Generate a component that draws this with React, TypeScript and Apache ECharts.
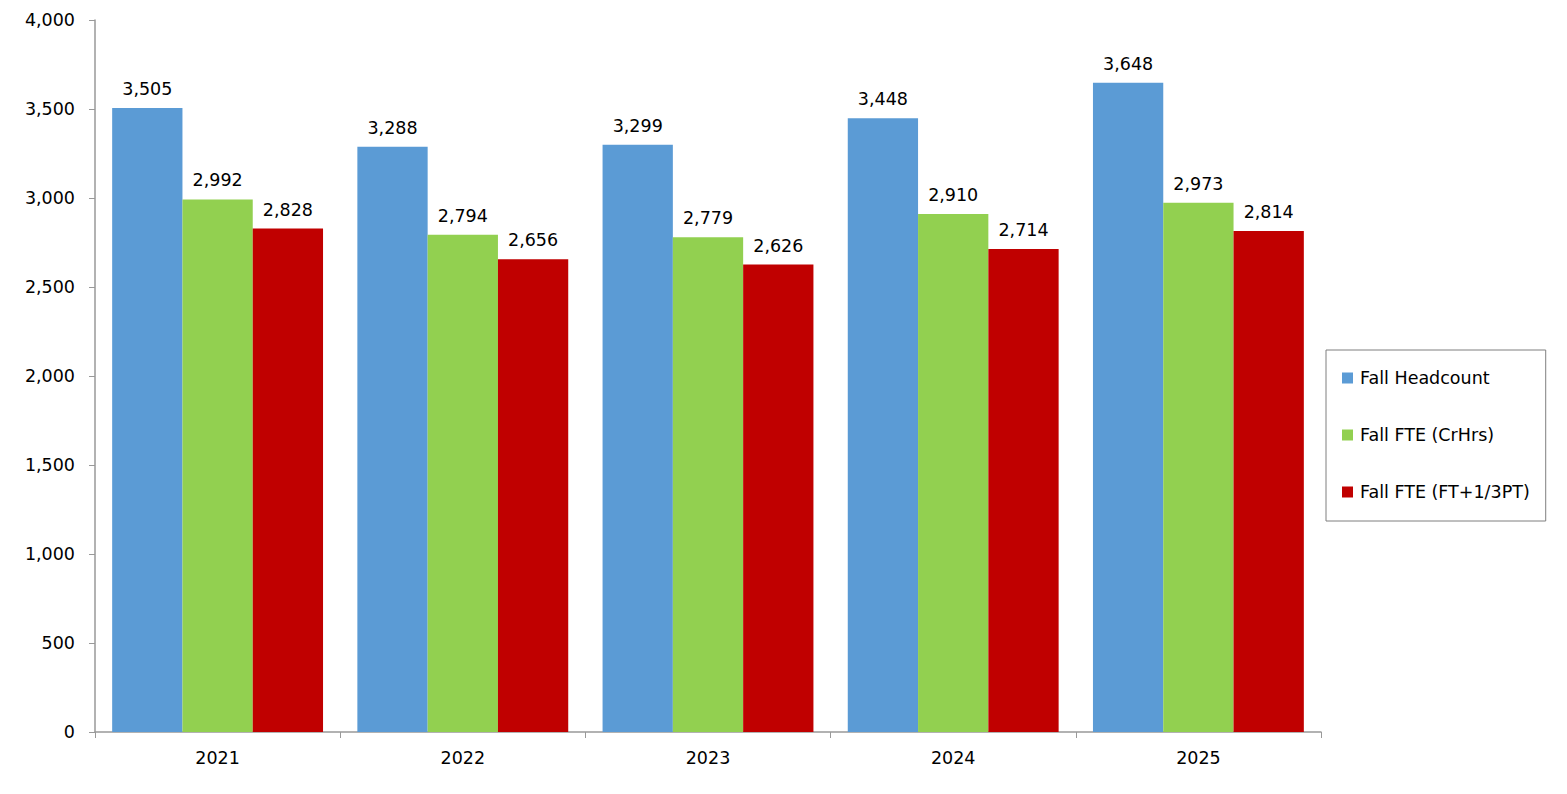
import { useEffect, useRef } from "react";
import * as echarts from "echarts";

const years = ["2021", "2022", "2023", "2024", "2025"];
const headcount = [3505, 3288, 3299, 3448, 3648];
const fteCrHrs = [2992, 2794, 2779, 2910, 2973];
const fteFtPt = [2828, 2656, 2626, 2714, 2814];

const seriesNames = ["Fall Headcount", "Fall FTE (CrHrs)", "Fall FTE (FT+1/3PT)"];
const seriesColors = ["#5B9BD5", "#92D050", "#C00000"];

const FONT = "DejaVu Sans";
const fmt = (v: number) => v.toLocaleString("en-US");

export default function App() {
  const chartRef = useRef<HTMLDivElement>(null);

  useEffect(() => {
    if (!chartRef.current) return;
    const chart = echarts.init(chartRef.current, undefined, { renderer: "svg" });

    const values = [headcount, fteCrHrs, fteFtPt];

    chart.setOption({
      animation: false,
      backgroundColor: "#ffffff",
      textStyle: { fontFamily: FONT },
      grid: { left: 95, right: 246, top: 20, bottom: 62 },
      legend: {
        orient: "vertical",
        left: 1326,
        top: 350,
        padding: [18, 16, 19, 16],
        itemGap: 37,
        itemWidth: 11,
        itemHeight: 11,
        icon: "rect",
        borderColor: "#7f7f7f",
        borderWidth: 1,
        textStyle: {
          fontFamily: FONT,
          fontSize: 17.5,
          color: "#000000",
          lineHeight: 20,
          padding: [0, 0, 0, 2],
        },
        data: seriesNames,
      },
      xAxis: {
        type: "category",
        data: years,
        axisLine: { lineStyle: { color: "#999999", width: 1.5 } },
        axisTick: { show: true, length: 6, alignWithLabel: false, lineStyle: { color: "#999999" } },
        axisLabel: { color: "#000000", fontSize: 17.5, fontFamily: FONT, margin: 17 },
      },
      yAxis: {
        type: "value",
        min: 0,
        max: 4000,
        interval: 500,
        axisLine: { show: true, lineStyle: { color: "#999999", width: 1.5 } },
        axisTick: { show: true, length: 6, lineStyle: { color: "#999999" } },
        splitLine: { show: false },
        axisLabel: {
          color: "#000000",
          fontSize: 17.5,
          fontFamily: FONT,
          margin: 20,
          formatter: (v: number) => fmt(v),
        },
      },
      series: seriesNames.map((name, i) => ({
        name,
        type: "bar",
        data: values[i],
        barGap: "0%",
        barCategoryGap: "14%",
        itemStyle: { color: seriesColors[i] },
        label: {
          show: true,
          position: "top",
          distance: 10,
          color: "#000000",
          fontSize: 17.5,
          fontFamily: FONT,
          formatter: (p: { value: number }) => fmt(p.value),
        },
      })),
    });

    return () => {
      chart.dispose();
    };
  }, []);

  return (
    <div
      ref={chartRef}
      style={{ position: "fixed", left: 0, top: 0, width: 1567, height: 794 }}
    />
  );
}
